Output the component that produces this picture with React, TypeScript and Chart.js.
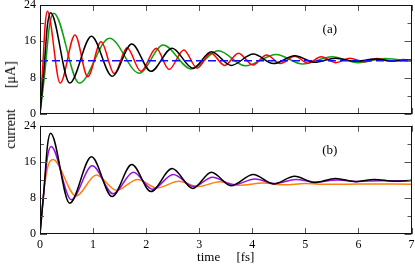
import React, { useEffect, useRef } from "react";
import { Chart, registerables } from "chart.js";

Chart.register(...registerables);

const FONT = "'Liberation Serif', 'Times New Roman', serif";

// axis ticks
const xTickValues = [0, 1, 2, 3, 4, 5, 6, 7];
const yMajorTicks = [0, 8, 16, 24];
const yMinorTicks = [4, 12, 20];

// reference level (blue dashed, panel a)
const refT = [0, 7];
const refV = [11.7, 11.7];

// black (both panels)
const blackT = [0, 0.07, 0.14, 0.2, 0.56, 0.97, 1.36, 1.73, 2.09, 2.49, 2.88, 3.23, 3.6, 4.02, 4.4, 4.8, 5.17, 5.57, 5.95, 6.3, 6.68, 7.0];
const blackV = [0, 9, 19.5, 22.3, 6.8, 17.1, 8.3, 15.4, 9.4, 14.5, 10.1, 13.7, 10.7, 13.2, 11.1, 12.8, 11.4, 12.3, 11.6, 12.1, 11.7, 11.9];

// red (panel a)
const redT = [0, 0.05, 0.1, 0.14, 0.38, 0.66, 0.9, 1.15, 1.4, 1.64, 1.9, 2.19, 2.43, 2.71, 2.96, 3.22, 3.48, 3.74, 4.01, 4.27, 4.53, 4.8, 5.05, 5.3, 5.57, 5.84, 6.1, 6.35, 6.6, 6.85, 7.0];
const redV = [0, 10, 20, 22.6, 6.8, 17.4, 8.2, 15.9, 8.9, 14.6, 9.4, 14.5, 9.8, 14.1, 10.1, 13.4, 10.7, 13.4, 10.8, 13.0, 11.1, 12.7, 11.2, 12.6, 11.3, 12.3, 11.5, 12.2, 11.6, 12.0, 11.8];

// green (panel a)
const greenT = [0, 0.09, 0.18, 0.26, 0.74, 1.31, 1.87, 2.32, 2.85, 3.36, 3.87, 4.45, 4.95, 5.5, 6.0, 6.5, 7.0];
const greenV = [0, 9, 19.5, 22.2, 6.8, 16.7, 9.0, 15.2, 9.9, 13.9, 10.6, 13.1, 11.0, 12.6, 11.3, 12.2, 11.6];

// purple (panel b)
const purpleT = [0, 0.07, 0.14, 0.21, 0.59, 0.985, 1.38, 1.76, 2.12, 2.51, 2.9, 3.25, 3.65, 4.05, 4.42, 4.82, 5.2, 5.6, 6.0, 6.4, 7.0];
const purpleV = [0, 9.3, 17, 19.4, 7.6, 15.1, 8.9, 13.7, 9.9, 13.2, 10.5, 12.6, 10.9, 12.2, 11.2, 12.1, 11.5, 11.95, 11.65, 11.8, 11.8];

// orange (panel b)
const orangeT = [0, 0.07, 0.15, 0.245, 0.68, 1.06, 1.44, 1.84, 2.2, 2.62, 2.98, 3.39, 3.75, 4.2, 4.6, 5.0, 5.4, 6.0, 7.0];
const orangeV = [0, 9.2, 15, 16.5, 8.4, 13.1, 9.7, 12.1, 10.2, 11.7, 10.5, 11.6, 10.8, 11.3, 10.9, 11.2, 11.0, 11.1, 11.05];

const pts = (t: number[], v: number[]) => t.map((x, i) => ({ x, y: v[i] }));

const frameTicks = {
  id: "frameTicks",
  afterDatasetsDraw(chart: any, _args: any, opts: any) {
    const { ctx, chartArea: ca, scales } = chart;
    const xs = scales.x;
    const ys = scales.y;
    ctx.save();
    ctx.strokeStyle = "#555";
    ctx.lineWidth = 1;
    ctx.beginPath();
    for (const t of xTickValues) {
      const px = Math.round(xs.getPixelForValue(t)) + 0.5;
      ctx.moveTo(px, ca.bottom);
      ctx.lineTo(px, ca.bottom - 6);
      ctx.moveTo(px, ca.top);
      ctx.lineTo(px, ca.top + 6);
    }
    for (const v of yMajorTicks) {
      const py = Math.round(ys.getPixelForValue(v)) + 0.5;
      ctx.moveTo(ca.left, py);
      ctx.lineTo(ca.left + 7, py);
      ctx.moveTo(ca.right, py);
      ctx.lineTo(ca.right - 7, py);
    }
    for (const v of yMinorTicks) {
      const py = Math.round(ys.getPixelForValue(v)) + 0.5;
      ctx.moveTo(ca.left, py);
      ctx.lineTo(ca.left + 4, py);
      ctx.moveTo(ca.right, py);
      ctx.lineTo(ca.right - 4, py);
    }
    ctx.stroke();
    ctx.strokeStyle = "#111";
    ctx.strokeRect(
      Math.round(ca.left) + 0.5,
      Math.round(ca.top) + 0.5,
      Math.round(ca.right) - Math.round(ca.left) - 1,
      Math.round(ca.bottom) - Math.round(ca.top) - 1
    );
    if (opts && opts.label) {
      ctx.font = `13px ${FONT}`;
      ctx.fillStyle = "#000";
      ctx.textAlign = "center";
      ctx.textBaseline = "middle";
      ctx.fillText(opts.label, ca.left + 0.78 * (ca.right - ca.left), ca.top + 25);
    }
    ctx.restore();
  },
};

function baseOptions(label: string, padTop: number, padBottom: number, showX: boolean): any {
  return {
    animation: false,
    responsive: false,
    devicePixelRatio: 1,
    layout: { padding: { left: 0, right: 3.5, top: padTop, bottom: padBottom } },
    elements: {
      point: { radius: 0 },
      line: { borderWidth: 1.5, cubicInterpolationMode: "monotone", fill: false },
    },
    plugins: {
      legend: { display: false },
      tooltip: { enabled: false },
      frameTicks: { label },
    },
    scales: {
      x: {
        type: "linear",
        min: 0,
        max: 7,
        display: showX,
        ticks: { stepSize: 1, font: { size: 12, family: FONT }, color: "#000", padding: 4, maxRotation: 0 },
        grid: { display: false, drawTicks: false },
        border: { display: false },
        title: {
          display: showX,
          text: "time     [fs]",
          font: { size: 13, family: FONT },
          color: "#000",
          padding: { top: 0, bottom: 3 },
        },
        afterFit: (s: any) => {
          if (showX) s.height = 34;
          s.paddingLeft = 0;
          s.paddingRight = 0;
        },
      },
      y: {
        type: "linear",
        min: 0,
        max: 24,
        ticks: { stepSize: 8, font: { size: 12, family: FONT }, color: "#000", padding: 4 },
        grid: { display: false, drawTicks: false },
        border: { display: false },
        afterFit: (s: any) => {
          s.width = 40;
          s.paddingTop = 0;
          s.paddingBottom = 0;
        },
      },
    },
  };
}

export default function App() {
  const topRef = useRef<HTMLCanvasElement>(null);
  const botRef = useRef<HTMLCanvasElement>(null);

  useEffect(() => {
    const line = (data: any, color: string, extra: any = {}) => ({
      data,
      borderColor: color,
      backgroundColor: color,
      borderWidth: 1.5,
      ...extra,
    });
    const top = new Chart(topRef.current as HTMLCanvasElement, {
      type: "line",
      data: {
        datasets: [
          line(pts(refT, refV), "#1010ff", { borderDash: [8, 4] }),
          line(pts(blackT, blackV), "#000000"),
          line(pts(redT, redV), "#ff0000"),
          line(pts(greenT, greenV), "#10a010"),
        ],
      },
      options: baseOptions("(a)", 5, 6, false),
      plugins: [frameTicks],
    } as any);
    const bot = new Chart(botRef.current as HTMLCanvasElement, {
      type: "line",
      data: {
        datasets: [
          line(pts(blackT, blackV), "#000000"),
          line(pts(purpleT, purpleV), "#9a10e0"),
          line(pts(orangeT, orangeV), "#ff8010"),
        ],
      },
      options: baseOptions("(b)", 5.7, 0, true),
      plugins: [frameTicks],
    } as any);
    return () => {
      top.destroy();
      bot.destroy();
    };
  }, []);

  return (
    <div style={{ position: "fixed", left: 0, top: 0, width: 415, height: 268, background: "#fff" }}>
      <canvas
        ref={topRef}
        width={415}
        height={120}
        style={{ position: "absolute", left: 0, top: 0, width: 415, height: 120 }}
      />
      <canvas
        ref={botRef}
        width={415}
        height={148}
        style={{ position: "absolute", left: 0, top: 120, width: 415, height: 148 }}
      />
      <div
        style={{
          position: "absolute",
          left: 11,
          top: 105,
          transform: "translate(-50%, -50%) rotate(-90deg)",
          whiteSpace: "pre",
          fontFamily: FONT,
          fontSize: 14,
          color: "#000",
          lineHeight: 1,
        }}
      >
        {"current      [\u03bcA]"}
      </div>
    </div>
  );
}
